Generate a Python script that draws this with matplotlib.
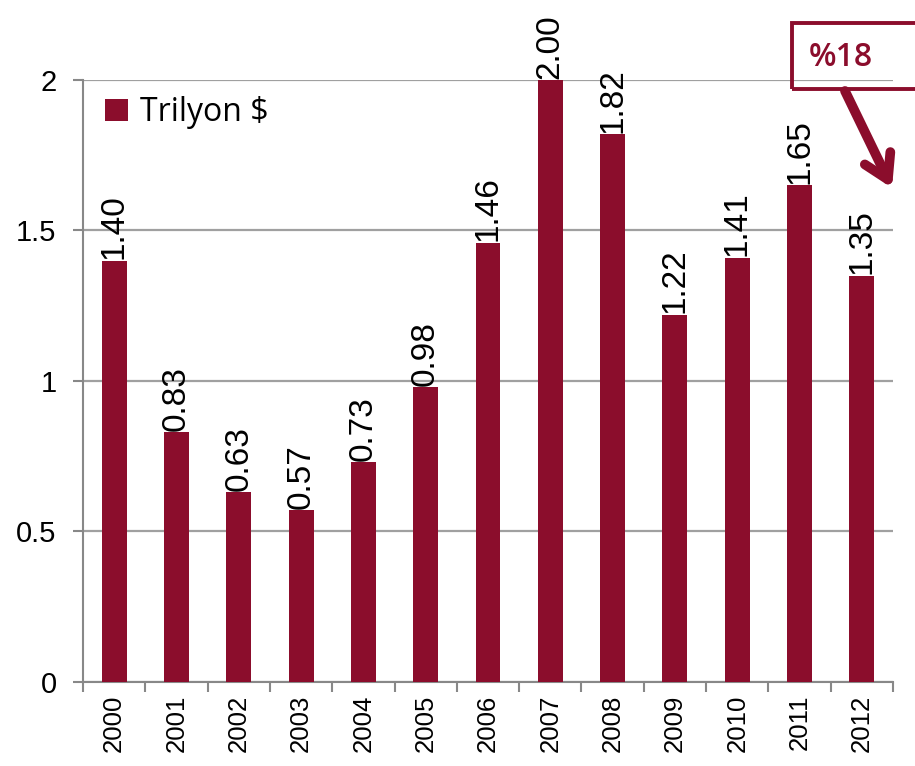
import matplotlib
matplotlib.use("Agg")
import matplotlib.pyplot as plt
from matplotlib.patches import Rectangle, FancyArrowPatch

years = ["2000", "2001", "2002", "2003", "2004", "2005", "2006",
         "2007", "2008", "2009", "2010", "2011", "2012"]
values = [1.40, 0.83, 0.63, 0.57, 0.73, 0.98, 1.46, 2.00, 1.82, 1.22, 1.41, 1.65, 1.35]
labels = ["1.40", "0.83", "0.63", "0.57", "0.73", "0.98", "1.46", "2.00", "1.82",
          "1.22", "1.41", "1.65", "1.35"]
yticks = [0, 0.5, 1, 1.5, 2]
ytick_labels = ["0", "0.5", "1", "1.5", "2"]
series_name = "Trilyon $"
note = "%18"

RED = "#8B0D2C"
GRID = "#A0A0A0"

fig = plt.figure(figsize=(9.15, 7.66), dpi=100)
ax = fig.add_axes([0.0907, 0.1097, 0.976 - 0.0907, 0.8956 - 0.1097])

x = list(range(len(years)))
bars = ax.bar(x, values, width=0.4, color=RED, zorder=3, label=series_name)
ax.set_xlim(-0.5, len(years) - 0.5)
ax.set_ylim(0, 2)
ax.set_yticks(yticks)
ax.set_yticklabels(ytick_labels, fontsize=21, family="Liberation Sans")
ax.set_xticks(x)
ax.set_xticklabels(years, rotation=90, fontsize=18.5, family="Liberation Sans")
ax.set_xticks([i - 0.5 for i in range(len(years) + 1)], minor=True)
ax.tick_params(axis="x", which="major", length=0, pad=9)
ax.tick_params(axis="x", which="minor", length=7, width=1.5, color="#888888")
ax.tick_params(axis="y", length=7, width=1.5, color="#888888", pad=12)
ax.yaxis.grid(True, color=GRID, linewidth=1.6, zorder=0)
for s in ["top", "right"]:
    ax.spines[s].set_visible(False)
for s in ["left", "bottom"]:
    ax.spines[s].set_color("#888888")
    ax.spines[s].set_linewidth(1.5)

for xi, v, lab in zip(x, values, labels):
    ax.annotate(lab, (xi, v), xytext=(0, 1), textcoords="offset points",
                rotation=90, ha="center", va="bottom", fontsize=24,
                family="Liberation Sans", annotation_clip=False)

leg = ax.legend(loc="upper left", bbox_to_anchor=(0.0, 1.01), frameon=False,
                prop={"family": "Open Sans", "size": 23}, handlelength=0.7,
                handleheight=0.7, handletextpad=0.4, borderaxespad=0.3)

# annotation box
fig.patches.append(Rectangle((792 / 915, 1 - 89 / 766), 0.3, 66 / 766,
                             transform=fig.transFigure, fill=False,
                             edgecolor=RED, linewidth=2.8, zorder=5))
fig.text(841 / 915, 1 - 57 / 766, note, color=RED, fontsize=23,
         family="Open Sans", fontweight="semibold", ha="center", va="center")
arrow = FancyArrowPatch((845 / 915, 1 - 91 / 766), (892 / 915, 1 - 188 / 766),
                        transform=fig.transFigure,
                        arrowstyle="->,head_length=10,head_width=6",
                        color=RED, linewidth=7, mutation_scale=1.7,
                        shrinkA=0, shrinkB=0)
fig.patches.append(arrow)

fig.savefig("out.png", dpi=100)
